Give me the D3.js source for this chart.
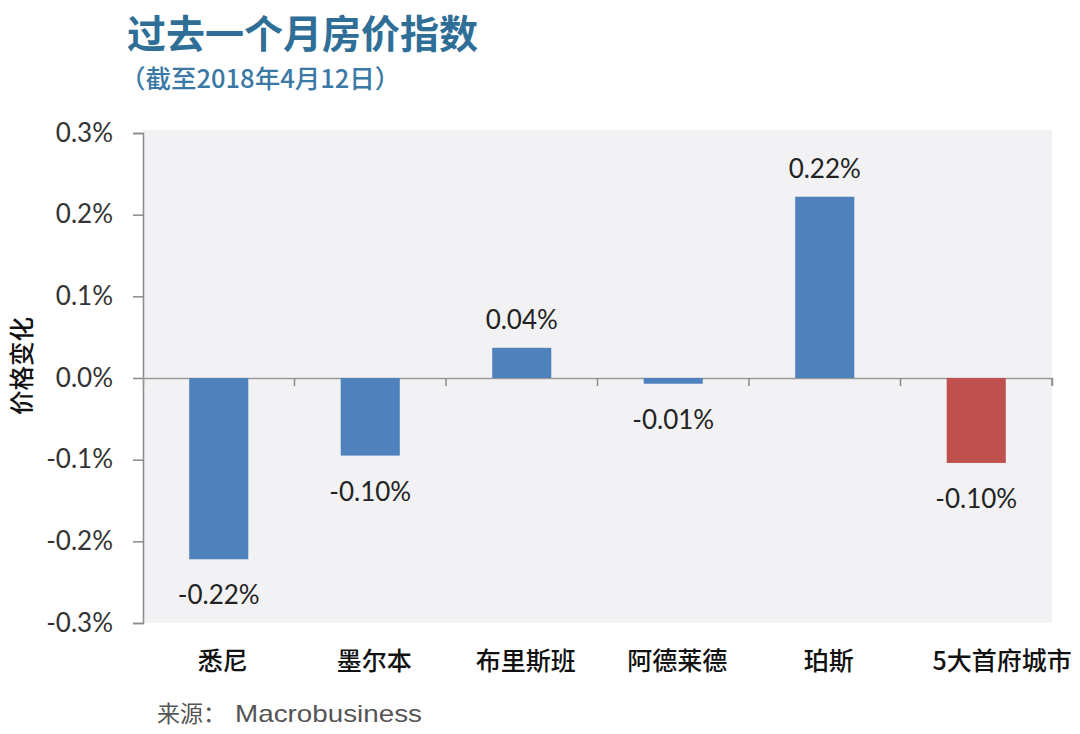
<!DOCTYPE html>
<html><head><meta charset="utf-8">
<script src="https://cdn.jsdelivr.net/npm/d3@7"></script>
<style>body{margin:0;background:#fff}svg{display:block}</style>
</head><body><svg id="c" width="1080" height="734"></svg>
<script>
const categories = ["悉尼","墨尔本","布里斯班","阿德莱德","珀斯","5大首府城市"];
const values = [-0.222, -0.095, 0.037, -0.007, 0.222, -0.104];
const labels = ["-0.22%","-0.10%","0.04%","-0.01%","0.22%","-0.10%"];
const barColors = ["#4f81bd","#4f81bd","#4f81bd","#4f81bd","#4f81bd","#c0504d"];
const yTicks = [0.3,0.2,0.1,0.0,-0.1,-0.2,-0.3];
const yTickLabels = ["0.3%","0.2%","0.1%","0.0%","-0.1%","-0.2%","-0.3%"];
const title = "过去一个月房价指数";
const subtitle = "（截至2018年4月12日）";
const yTitle = "价格变化";
const sourceLabel = "来源：";
const sourceName = "Macrobusiness";

(function(){
const svg = d3.select("#c");
const pL = 143, pR = 1052, pT = 133, pB = 623;
const x = d3.scaleBand().domain(categories).range([pL, pR]).paddingInner(0.61).paddingOuter(0.305);
const y = d3.scaleLinear().domain([-0.3, 0.3]).range([pB, pT]);
const numFont = "Lato, 'Open Sans', sans-serif";

svg.append("rect").attr("x", pL).attr("y", pT-3).attr("width", pR-pL).attr("height", pB-pT+3).attr("fill", "#f2f2f4");

// title
svg.append("text").attr("x", 127).attr("y", 48).text(title)
  .attr("font-family", "Noto Sans CJK SC").attr("font-weight", 700).attr("font-size", 39).attr("fill", "#2f6f97");
svg.append("text").attr("x", 120).attr("y", 88).text(subtitle)
  .attr("font-family", "Noto Sans CJK SC").attr("font-weight", 500).attr("font-size", 25.5).attr("fill", "#3a78a6");

// y axis
const yAxis = d3.axisLeft(y).tickValues(yTicks).tickSize(10).tickPadding(20)
  .tickFormat((d, i) => yTickLabels[i]);
const ga = svg.append("g").attr("transform", `translate(${pL},0)`).call(yAxis);
ga.select(".domain").attr("stroke", "#8a8a8a").attr("stroke-width", 1.5);
ga.selectAll(".tick line").attr("stroke", "#8a8a8a").attr("stroke-width", 1.5);
ga.selectAll(".tick text").attr("font-family", numFont).attr("font-size", 26).attr("fill", "#333");

// zero axis with category ticks
const xAxis = d3.axisBottom(x).tickSize(8).tickFormat("");
const gx = svg.append("g").attr("transform", `translate(0,${y(0)})`).call(xAxis);
gx.select(".domain").attr("stroke", "#9a9a9a").attr("stroke-width", 1.5);
gx.selectAll(".tick").remove();
const bounds = categories.map((c, i) => pL + (i + 1) * x.step());
gx.selectAll("line.bt").data(bounds).enter().append("line").attr("class", "bt")
  .attr("x1", d => d).attr("x2", d => d).attr("y1", 0).attr("y2", 8).attr("stroke", "#8a8a8a").attr("stroke-width", 1.5);

// bars
svg.selectAll("rect.bar").data(values).enter().append("rect").attr("class", "bar")
  .attr("x", (d, i) => x(categories[i]))
  .attr("width", x.bandwidth())
  .attr("y", d => y(Math.max(0, d)))
  .attr("height", d => Math.abs(y(d) - y(0)))
  .attr("fill", (d, i) => barColors[i]);

// value labels
svg.selectAll("text.vl").data(values).enter().append("text").attr("class", "vl")
  .attr("x", (d, i) => x(categories[i]) + x.bandwidth() / 2)
  .attr("y", d => d >= 0 ? y(d) - 19 : y(d) + 45)
  .attr("text-anchor", "middle")
  .attr("font-family", numFont).attr("font-size", 26).attr("fill", "#222")
  .text((d, i) => labels[i]);

// category labels
svg.selectAll("text.cl").data(categories).enter().append("text").attr("class", "cl")
  .attr("x", (d, i) => x(d) + x.bandwidth() / 2 + (i === 5 ? 26 : 4))
  .attr("y", 670)
  .attr("text-anchor", "middle")
  .attr("font-family", "Noto Sans CJK SC").attr("font-weight", 500).attr("font-size", 25).attr("fill", "#111")
  .text(d => d);

// y title
svg.append("text").attr("transform", "translate(31,366) rotate(-90)").attr("text-anchor", "middle")
  .attr("font-family", "Noto Sans CJK SC").attr("font-weight", 500).attr("font-size", 24.5).attr("fill", "#111")
  .text(yTitle);

// source
svg.append("text").attr("x", 157).attr("y", 722).text(sourceLabel)
  .attr("font-family", "Noto Sans CJK SC").attr("font-size", 23).attr("fill", "#555");
svg.append("text").attr("x", 235).attr("y", 722).text(sourceName)
  .attr("font-family", "'Liberation Sans', Arial, sans-serif").attr("font-size", 24).attr("fill", "#555")
  .attr("textLength", 187).attr("lengthAdjust", "spacingAndGlyphs");
})();
</script></body></html>
